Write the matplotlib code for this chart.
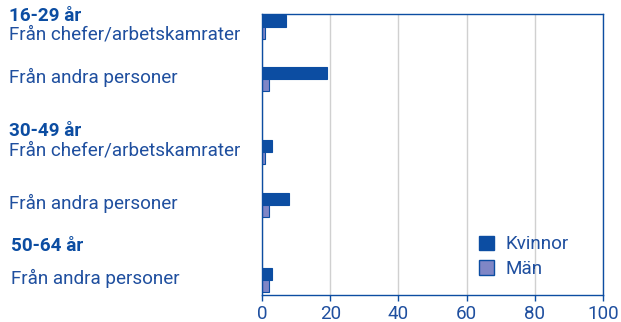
import matplotlib.pyplot as plt
import matplotlib.transforms as mtransforms
from matplotlib.patches import Patch

plt.rcParams['font.family'] = ['Roboto', 'DejaVu Sans']

groups = ["16-29 år", "30-49 år", "50-64 år"]
rows = ["Från chefer/arbetskamrater", "Från andra personer",
        "Från chefer/arbetskamrater", "Från andra personer",
        "Från andra personer"]
row_group = [0, 0, 1, 1, 2]
kvinnor = [7, 19, 3, 8, 3]
man = [1, 2, 1, 2, 2]
series_names = ["Kvinnor", "Män"]

# row centres (between the two bars), in units of roughly one bar pair
row_pos = [0.5, 2.5, 5.3, 7.35, 10.23]
bar_h = 0.47

blue = "#0c4da2"
light = "#7f86c6"
text_col = "#1f4f9f"
fs = 13.6

fig = plt.figure(figsize=(6.21, 3.22), dpi=100)
ax = fig.add_axes([262 / 621, 1 - 295 / 322, (603 - 262) / 621, (295 - 14) / 322])

ax.barh([p - bar_h / 2 for p in row_pos], kvinnor, height=bar_h,
        color=blue, edgecolor=blue, linewidth=0.8)
ax.barh([p + bar_h / 2 for p in row_pos], man, height=bar_h,
        color=light, edgecolor=blue, linewidth=0.8)

ax.set_xlim(0, 100)
ax.set_ylim(10.8, 0)
ax.set_xticks([0, 20, 40, 60, 80, 100])
ax.set_yticks([])
ax.xaxis.grid(True, color="#d0d0d0", linewidth=1)
ax.set_axisbelow(True)
for s in ax.spines.values():
    s.set_color(blue)
    s.set_linewidth(1)
ax.tick_params(axis="x", colors=blue, labelcolor=text_col, labelsize=fs,
               length=4, width=1, pad=3)

# category labels on the left
trans = mtransforms.blended_transform_factory(fig.transFigure, ax.transData)
label_offset = [0.27, -0.05, -0.07, -0.07, -0.07]
for i, txt in enumerate(rows):
    x = 9 / 621 if row_group[i] < 2 else 11 / 621
    ax.text(x, row_pos[i] + label_offset[i], txt, transform=trans,
            ha="left", va="center", fontsize=fs, color=text_col)

head_pos = [0.08, 4.5, 8.9]
head_x = [9, 9, 11]
for g, y, x in zip(groups, head_pos, head_x):
    ax.text(x / 621, y, g, transform=trans, ha="left", va="center",
            fontsize=fs, fontweight="bold", color=blue)

handles = [Patch(facecolor=blue, edgecolor=blue),
           Patch(facecolor=light, edgecolor=blue)]
leg = ax.legend(handles, series_names, loc="lower right",
                bbox_to_anchor=(0.95, 0.0), frameon=False, fontsize=fs,
                handlelength=0.8, handleheight=0.8, handletextpad=0.6,
                labelspacing=0.35)
for t in leg.get_texts():
    t.set_color(text_col)

fig.savefig("out.png", dpi=100)
